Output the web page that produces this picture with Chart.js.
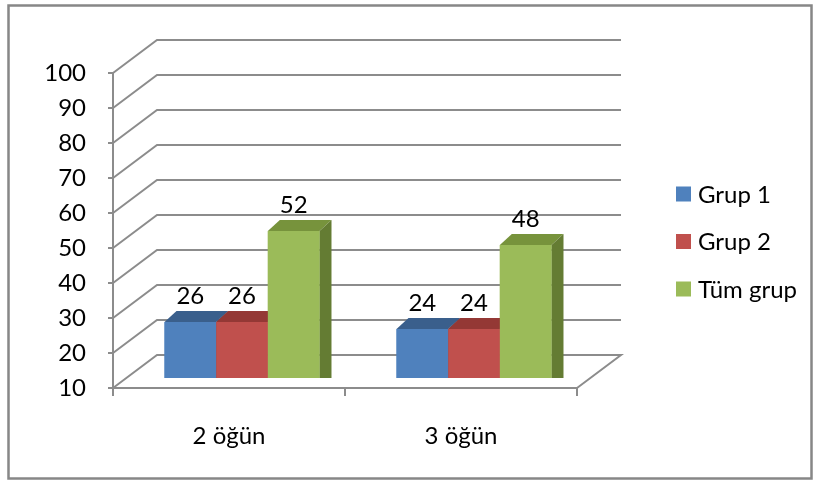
<!DOCTYPE html>
<html>
<head>
<meta charset="utf-8">
<script src="https://cdn.jsdelivr.net/npm/chart.js@4.4.1/dist/chart.umd.min.js"></script>
<style>
  html, body { margin: 0; padding: 0; background: #fff; }
  .chart-box { width: 817px; height: 480px; }
</style>
</head>
<body>
<div class="chart-box"><canvas id="ogunChart" width="817" height="480"></canvas></div>
<script>
  // values
  const categories = ["2 öğün", "3 öğün"];
  const seriesNames = ["Grup 1", "Grup 2", "Tüm grup"];
  const grup1 = [26, 24];
  const grup2 = [26, 24];
  const tumGrup = [52, 48];
  const yTicks = [10, 20, 30, 40, 50, 60, 70, 80, 90, 100];

  const frontColors = ["#4f81bd", "#c0504d", "#9bbb59"];
  const topColors = ["#3a5f8c", "#943835", "#77933c"];
  const sideColors = ["#2f4d70", "#7a2e2c", "#647c33"];

  const FONT = "Lato, 'Open Sans', sans-serif";
  const GRID = "#8c8c8c";

  // fake 3D: back wall offset, bar plane offset, bar depth
  const wall = { dx: 44, dy: -33 };
  const shift = { dx: 13, dy: -10 };
  const depth = { dx: 12, dy: -11 };

  const box3d = {
    id: "box3d",
    beforeDatasetsDraw(chart) {
      const { ctx, chartArea: a, scales } = chart;
      ctx.save();
      ctx.strokeStyle = GRID;
      ctx.lineWidth = 2;
      yTicks.forEach((v) => {
        const py = scales.y.getPixelForValue(v);
        ctx.beginPath();
        ctx.moveTo(a.left, py);
        ctx.lineTo(a.left + wall.dx, py + wall.dy);
        ctx.lineTo(a.right + wall.dx, py + wall.dy);
        if (v === yTicks[0]) ctx.lineTo(a.right, py);
        ctx.stroke();
      });
      ctx.restore();
      ctx.save();
      ctx.translate(shift.dx, shift.dy);
    },
    afterDatasetsDraw(chart) {
      const { ctx, chartArea: a } = chart;
      const metas = chart.getSortedVisibleDatasetMetas().sort((p, q) => p.index - q.index);
      ctx.save();
      // nothing of a bar goes below the floor
      ctx.beginPath();
      ctx.rect(a.left, 0, a.right - a.left + 60, a.bottom);
      ctx.clip();
      // tops and sides
      metas.forEach((meta) => {
        meta.data.forEach((bar) => {
          const l = bar.x - bar.width / 2, r = bar.x + bar.width / 2;
          ctx.fillStyle = topColors[meta.index];
          ctx.beginPath();
          ctx.moveTo(l, bar.y);
          ctx.lineTo(r, bar.y);
          ctx.lineTo(r + depth.dx, bar.y + depth.dy);
          ctx.lineTo(l + depth.dx, bar.y + depth.dy);
          ctx.closePath();
          ctx.fill();
          ctx.fillStyle = sideColors[meta.index];
          ctx.beginPath();
          ctx.moveTo(r, bar.y);
          ctx.lineTo(r + depth.dx, bar.y + depth.dy);
          ctx.lineTo(r + depth.dx, bar.base + depth.dy);
          ctx.lineTo(r, bar.base);
          ctx.closePath();
          ctx.fill();
        });
      });
      // fronts again so the next bar covers the overhang
      metas.forEach((meta) => meta.data.forEach((bar) => bar.draw(ctx)));
      ctx.restore();
      // value labels
      ctx.fillStyle = "#000";
      ctx.font = "24px " + FONT;
      ctx.textAlign = "center";
      ctx.textBaseline = "alphabetic";
      metas.forEach((meta) => {
        const vals = chart.data.datasets[meta.index].data;
        meta.data.forEach((bar, i) => ctx.fillText(String(vals[i]), bar.x, bar.y - 18));
      });
      ctx.restore();
    },
    afterDraw(chart) {
      const { ctx } = chart;
      ctx.save();
      // legend
      ctx.font = "24px " + FONT;
      ctx.textAlign = "left";
      ctx.textBaseline = "middle";
      const legendY = [194, 241.5, 289];
      chart.data.datasets.forEach((ds, i) => {
        ctx.fillStyle = ds.backgroundColor;
        ctx.fillRect(676, legendY[i] - 7.5, 15, 15);
        ctx.fillStyle = "#000";
        ctx.fillText(ds.label, 698, legendY[i] + 1);
      });
      // outer frame
      ctx.strokeStyle = "#878787";
      ctx.lineWidth = 2.5;
      ctx.strokeRect(8.5, 5.5, 803, 473);
      ctx.restore();
    },
  };

  const ctx = document.getElementById("ogunChart").getContext("2d");

  const ogunChart = new Chart(ctx, {
    type: "bar",
    data: {
      labels: categories,
      datasets: [grup1, grup2, tumGrup].map((vals, i) => ({
        label: seriesNames[i],
        data: vals,
        backgroundColor: frontColors[i],
        borderWidth: 0,
        categoryPercentage: 0.668,
        barPercentage: 1.0,
        clip: 0,
      })),
    },
    options: {
      responsive: false,
      animation: false,
      layout: { padding: { left: 0, top: 73, right: 240, bottom: 0 } },
      plugins: {
        legend: { display: false },
        tooltip: { enabled: false },
      },
      scales: {
        x: {
          grid: { offset: true, drawOnChartArea: false, tickLength: 8, color: GRID, lineWidth: 2 },
          border: { color: GRID, width: 2 },
          ticks: { padding: 26, color: "#000", font: { family: FONT, size: 24 } },
          afterFit(s) { s.height = 92; },
        },
        y: {
          min: yTicks[0],
          max: yTicks[yTicks.length - 1],
          grid: { drawOnChartArea: false, tickLength: 5, color: GRID, lineWidth: 2 },
          border: { color: GRID, width: 2 },
          ticks: { padding: 22, color: "#000", font: { family: FONT, size: 24 } },
          afterBuildTicks(s) { s.ticks = yTicks.map((v) => ({ value: v })); },
          afterFit(s) { s.width = 113; },
        },
      },
    },
    plugins: [box3d],
  });
</script>
</body>
</html>
